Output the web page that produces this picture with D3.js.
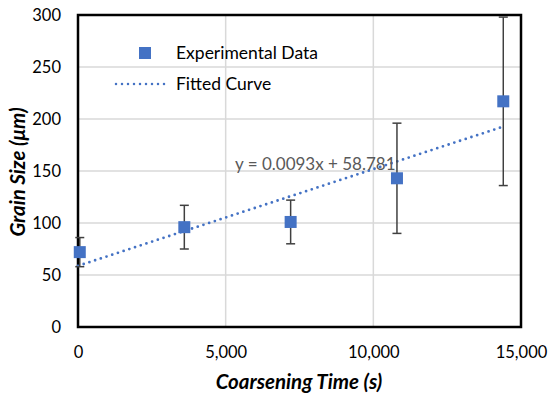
<!DOCTYPE html>
<html>
<head>
<meta charset="utf-8">
<script src="https://cdn.jsdelivr.net/npm/d3@7"></script>
<style>
  body { margin: 0; background: #fff; }
  text { font-family: Lato, "Open Sans", sans-serif; }
</style>
</head>
<body>
<svg width="550" height="399"></svg>
<script>
// coarsening time (s) and grain size (um)
const times = [60, 3600, 7200, 10800, 14400];
const grain = [72, 96, 101, 143, 217];
const errs = [14, 21, 21, 53, 81];
const slope = 0.0093, intercept = 58.781;
const xTicks = [0, 5000, 10000, 15000];
const yTicks = [0, 50, 100, 150, 200, 250, 300];

const blue = '#4472C4';

const svg = d3.select('svg');

const x = d3.scaleLinear().domain([0, 15000]).range([78, 521]);
const y = d3.scaleLinear().domain([0, 300]).range([327, 15]);

// grid
svg.append('g')
  .selectAll('line')
  .data(yTicks.slice(1, -1))
  .join('line')
  .attr('x1', x(0)).attr('x2', x(15000))
  .attr('y1', d => y(d)).attr('y2', d => y(d))
  .attr('stroke', '#d9d9d9').attr('stroke-width', 1.5);

svg.append('g')
  .selectAll('line')
  .data(xTicks.slice(1, -1))
  .join('line')
  .attr('x1', d => x(d)).attr('x2', d => x(d))
  .attr('y1', y(0)).attr('y2', y(300))
  .attr('stroke', '#d9d9d9').attr('stroke-width', 1.5);

// frame
svg.append('rect')
  .attr('x', x(0)).attr('y', y(300))
  .attr('width', x(15000) - x(0)).attr('height', y(0) - y(300))
  .attr('fill', 'none').attr('stroke', '#000').attr('stroke-width', 2.5);

// axes (labels only)
const xAxis = svg.append('g')
  .attr('transform', `translate(0,${y(0)})`)
  .call(d3.axisBottom(x).tickValues(xTicks).tickSize(0).tickPadding(19).tickFormat(d3.format(',')));
const yAxis = svg.append('g')
  .attr('transform', `translate(${x(0)},0)`)
  .call(d3.axisLeft(y).tickValues(yTicks).tickSize(0).tickPadding(17));
[xAxis, yAxis].forEach(a => {
  a.select('.domain').remove();
  a.selectAll('text').attr('font-size', 16.5).attr('fill', '#000')
    .style('font-family', 'Lato, sans-serif');
});

// fitted line
const fitX = [0, 14400];
svg.append('line')
  .attr('x1', x(fitX[0])).attr('y1', y(slope * fitX[0] + intercept))
  .attr('x2', x(fitX[1])).attr('y2', y(slope * fitX[1] + intercept))
  .attr('stroke', blue).attr('stroke-width', 2.8)
  .attr('stroke-linecap', 'round').attr('stroke-dasharray', '0 6');

// error bars
const pts = times.map((t, i) => ({ t: t, v: grain[i], e: errs[i] }));
const eb = svg.append('g').attr('stroke', '#404040').attr('stroke-width', 1.5);
eb.selectAll('.bar').data(pts).join('line').attr('class', 'bar')
  .attr('x1', d => x(d.t)).attr('x2', d => x(d.t))
  .attr('y1', d => y(d.v + d.e)).attr('y2', d => y(d.v - d.e));
eb.selectAll('.capt').data(pts).join('line').attr('class', 'capt')
  .attr('x1', d => x(d.t) - 4.5).attr('x2', d => x(d.t) + 4.5)
  .attr('y1', d => y(d.v + d.e)).attr('y2', d => y(d.v + d.e));
eb.selectAll('.capb').data(pts).join('line').attr('class', 'capb')
  .attr('x1', d => x(d.t) - 4.5).attr('x2', d => x(d.t) + 4.5)
  .attr('y1', d => y(d.v - d.e)).attr('y2', d => y(d.v - d.e));

// markers
svg.append('g').selectAll('rect').data(pts).join('rect')
  .attr('x', d => x(d.t) - 6).attr('y', d => y(d.v) - 6)
  .attr('width', 12).attr('height', 12).attr('fill', blue);

// equation
svg.append('text')
  .attr('x', 235).attr('y', 170)
  .attr('font-size', 17).attr('fill', '#595959')
  .text('y = 0.0093x + 58.781');

// legend
svg.append('rect').attr('x', 139).attr('y', 47).attr('width', 12).attr('height', 12).attr('fill', blue);
svg.append('text').attr('x', 176).attr('y', 59).attr('font-size', 17.5).text('Experimental Data');
svg.append('line').attr('x1', 116).attr('x2', 167).attr('y1', 84).attr('y2', 84)
  .attr('stroke', blue).attr('stroke-width', 2.5)
  .attr('stroke-linecap', 'round').attr('stroke-dasharray', '0 6');
svg.append('text').attr('x', 176).attr('y', 90).attr('font-size', 17.5).text('Fitted Curve');

// axis titles
svg.append('text')
  .attr('x', 299).attr('y', 389).attr('text-anchor', 'middle')
  .attr('font-size', 20.5).attr('font-weight', 'bold').attr('font-style', 'italic')
  .text('Coarsening Time (s)');
svg.append('text')
  .attr('transform', 'translate(25,172) rotate(-90)').attr('text-anchor', 'middle')
  .attr('font-size', 20.5).attr('font-weight', 'bold').attr('font-style', 'italic')
  .text('Grain Size (μm)');
</script>
</body>
</html>
